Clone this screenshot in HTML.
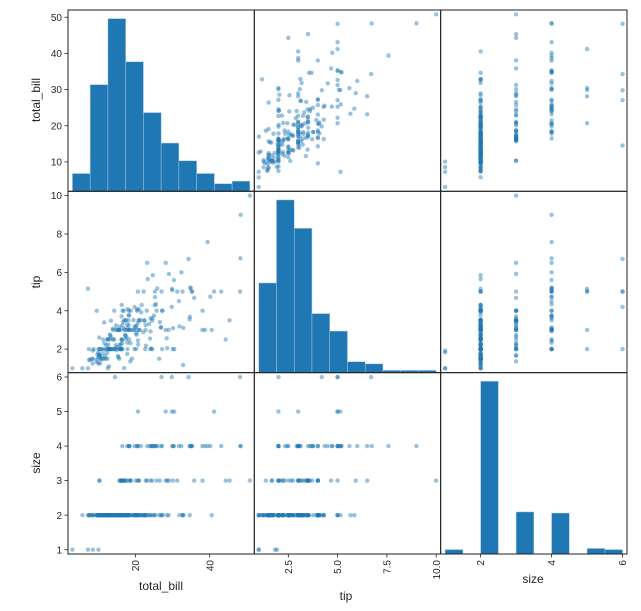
<!DOCTYPE html>
<html><head><meta charset="utf-8"><style>
html,body{margin:0;padding:0;background:#fff;}
svg{display:block;font-family:"Liberation Sans","DejaVu Sans",sans-serif;}
</style></head><body>
<svg id="chart" width="641" height="611" viewBox="0 0 641 611" xmlns="http://www.w3.org/2000/svg"></svg>
<script>
const varNames = ["total_bill","tip","size"];
// each record: [total_bill, tip, size]
const tipsRows = [
[16.99,1.01,2],[10.34,1.66,3],[21.01,3.5,3],[23.68,3.31,2],[24.59,3.61,4],[25.29,4.71,4],[8.77,2.0,2],[26.88,3.12,4],[15.04,1.96,2],[14.78,3.23,2],
[10.27,1.71,2],[35.26,5.0,4],[15.42,1.57,2],[18.43,3.0,4],[14.83,3.02,2],[21.58,3.92,2],[10.33,1.67,3],[16.29,3.71,3],[16.97,3.5,3],[20.65,3.35,3],
[17.92,4.08,2],[20.29,2.75,2],[15.77,2.23,2],[39.42,7.58,4],[19.82,3.18,2],[17.81,2.34,4],[13.37,2.0,2],[12.69,2.0,2],[21.7,4.3,2],[19.65,3.0,2],
[9.55,1.45,2],[18.35,2.5,4],[15.06,3.0,2],[20.69,2.45,4],[17.78,3.27,2],[24.06,3.6,3],[16.31,2.0,3],[16.93,3.07,3],[18.69,2.31,3],[31.27,5.0,3],
[16.04,2.24,3],[17.46,2.54,2],[13.94,3.06,2],[9.68,1.32,2],[30.4,5.6,4],[18.29,3.0,2],[22.23,5.0,2],[32.4,6.0,4],[28.55,2.05,3],[18.04,3.0,2],
[12.54,2.5,2],[10.29,2.6,2],[34.81,5.2,4],[9.94,1.56,2],[25.56,4.34,4],[19.49,3.51,2],[38.01,3.0,4],[26.41,1.5,2],[11.24,1.76,2],[48.27,6.73,4],
[20.29,3.21,2],[13.81,2.0,2],[11.02,1.98,2],[18.29,3.76,4],[17.59,2.64,3],[20.08,3.15,3],[16.45,2.47,2],[3.07,1.0,1],[20.23,2.01,2],[15.01,2.09,2],
[12.02,1.97,2],[17.07,3.0,3],[26.86,3.14,2],[25.28,5.0,2],[14.73,2.2,2],[10.51,1.25,2],[17.92,3.08,2],[27.2,4.0,4],[22.76,3.0,2],[17.29,2.71,2],
[19.44,3.0,2],[16.66,3.4,2],[10.07,1.83,1],[32.68,5.0,2],[15.98,2.03,2],[34.83,5.17,4],[13.03,2.0,2],[18.28,4.0,2],[24.71,5.85,2],[21.16,3.0,2],
[28.97,3.0,2],[22.49,3.5,2],[5.75,1.0,2],[16.32,4.3,2],[22.75,3.25,2],[40.17,4.73,4],[27.28,4.0,2],[12.03,1.5,2],[21.01,3.0,2],[12.46,1.5,2],
[11.35,2.5,2],[15.38,3.0,2],[44.3,2.5,3],[22.42,3.48,2],[20.92,4.08,2],[15.36,1.64,2],[20.49,4.06,2],[25.21,4.29,2],[18.24,3.76,2],[14.31,4.0,2],
[14.0,3.0,2],[7.25,1.0,1],[38.07,4.0,3],[23.95,2.55,2],[25.71,4.0,3],[17.31,3.5,2],[29.93,5.07,4],[16.27,2.5,2],[10.09,2.0,2],[20.45,3.0,4],
[13.28,2.72,2],[22.12,2.88,2],[24.01,2.0,4],[15.69,3.0,3],[11.61,3.39,2],[10.77,1.47,2],[15.53,3.0,2],[10.07,1.25,2],[12.6,1.0,2],[32.83,1.17,2],
[35.83,4.67,3],[29.03,5.92,3],[27.18,2.0,2],[22.67,2.0,2],[17.82,1.75,2],[18.78,3.0,2],[7.51,2.0,2],[14.07,2.5,2],[13.13,2.0,2],[17.26,2.74,3],
[24.55,2.0,4],[19.77,2.0,4],[29.85,5.14,5],[48.17,5.0,6],[25.0,3.75,4],[13.39,2.61,2],[16.49,2.0,4],[21.5,3.5,4],[12.66,2.5,2],[16.21,2.0,3],
[17.51,3.0,2],[24.52,3.48,3],[20.76,2.24,2],[31.71,4.5,4],[10.59,1.61,2],[10.63,2.0,2],[50.81,10.0,3],[15.81,3.16,2],[7.25,5.15,2],[31.85,3.18,2],
[16.82,4.0,2],[32.9,3.11,2],[17.89,2.0,2],[14.48,2.0,2],[9.6,4.0,2],[34.63,3.55,2],[34.65,3.68,4],[23.33,5.65,2],[45.35,3.5,3],[23.17,6.5,4],
[40.55,3.0,2],[20.69,5.0,5],[20.9,3.5,3],[30.46,2.0,5],[18.15,3.5,3],[23.1,4.0,3],[15.69,1.5,2],[19.81,4.19,2],[28.44,2.56,2],[15.48,2.02,2],
[16.58,4.0,2],[7.56,1.44,2],[10.34,2.0,2],[43.11,5.0,4],[13.0,2.0,2],[13.51,2.0,2],[18.71,4.0,3],[12.74,2.01,2],[16.4,2.5,2],[20.53,4.0,4],
[16.47,3.23,3],[26.59,3.41,3],[38.73,3.0,4],[24.27,2.03,2],[12.76,2.23,2],[30.06,2.0,3],[25.89,5.16,4],[48.33,9.0,4],[13.27,2.5,2],[28.17,6.5,3],
[12.9,1.1,2],[28.15,3.0,5],[11.59,1.5,2],[7.74,1.44,2],[30.14,3.09,4],[12.16,2.2,2],[13.42,3.48,2],[8.58,1.92,1],[15.98,3.0,3],[34.3,6.7,6],
[41.19,5.0,5],[27.05,5.0,6],[16.43,2.3,2],[8.35,1.5,2],[18.64,1.36,3],[11.87,1.63,2],[9.78,1.73,2],[29.8,4.2,6],[8.52,1.48,2],[14.52,2.0,6],
[11.38,2.0,2],[22.82,2.18,3],[19.08,1.5,2],[20.27,2.83,2],[11.17,1.5,2],[12.26,2.0,2],[18.26,3.25,2],[8.51,1.25,2],[14.15,2.0,2],[16.0,2.0,2],
[13.16,2.75,2],[17.47,3.5,2],[10.65,1.5,2],[12.43,1.8,2],[24.08,2.92,4],[11.69,2.31,2],[14.26,2.5,2],[15.95,2.0,2],[12.48,2.52,2],[35.26,5.0,4]
];
const histTotalBill = [7,42,68,51,31,19,12,7,3,4];
const histTip = [41,79,66,27,19,5,4,1,1,1];
const histSize = [4,0,156,0,38,0,37,0,5,4];
const ticksTotalBillY = ["10","20","30","40","50"];
const ticksTipY = ["2","4","6","8","10"];
const ticksSizeY = ["1","2","3","4","5","6"];
const ticksTotalBillX = ["20","40"];
const ticksTipX = ["2.5","5.0","7.5","10.0"];
const ticksSizeX = ["2","4","6"];

const NS="http://www.w3.org/2000/svg";
const svg=document.getElementById('chart');
const cols=[68,254.3,440.7], rows=[10,191.3,372.7], CW=186.3, RH=181.3;
const datas=[0,1,2].map(k=>tipsRows.map(r=>r[k]));
const hists=[histTotalBill,histTip,histSize];
function lim(a){const mn=Math.min(...a),mx=Math.max(...a),d=(mx-mn)*0.025;return [mn-d,mx+d];}
const lims=datas.map(lim);
const xScale=(j,v)=>cols[j]+(v-lims[j][0])/(lims[j][1]-lims[j][0])*CW;
const yScale=(i,v)=>rows[i]+RH-(v-lims[i][0])/(lims[i][1]-lims[i][0])*RH;
function mk(tag,at,parent){const e=document.createElementNS(NS,tag);for(const k in at)e.setAttribute(k,at[k]);(parent||svg).appendChild(e);return e;}

for(let i=0;i<3;i++)for(let j=0;j<3;j++){
  const g=mk('g',{});
  
  
  if(i===j){
    const h=hists[i],mx=Math.max(...h)*1.05,mn=Math.min(...datas[i]),mxv=Math.max(...datas[i]),bw=(mxv-mn)/h.length;
    h.forEach((c,k)=>{ if(!c)return;
      const x1=xScale(j,mn+k*bw),x2=xScale(j,mn+(k+1)*bw),hh=c/mx*RH;
      const r=mk('rect',{x:x1,y:rows[i]+RH-hh,width:x2-x1,height:hh,fill:'#1f77b4',stroke:'#a9c9e2','stroke-width':0.5},g);
      
      
    });
  } else {
    for(let n=0;n<tipsRows.length;n++){
      const c=mk('circle',{cx:xScale(j,datas[j][n]),cy:yScale(i,datas[i][n]),r:2.2,fill:'#1f77b4','fill-opacity':0.45},g);
      
      
    }
  }
  const fr=mk('rect',{x:cols[j],y:rows[i],width:CW,height:RH,fill:'none',stroke:'#222','stroke-width':1},g);
  
  
}
const yt=[ticksTotalBillY,ticksTipY,ticksSizeY];
yt.forEach((arr,i)=>arr.forEach(t=>{
  const y=yScale(i,parseFloat(t));
  mk('line',{x1:cols[0]-3.5,x2:cols[0],y1:y,y2:y,stroke:'#222','stroke-width':0.8});
  const tx=mk('text',{x:cols[0]-6,y:y+3.6,'text-anchor':'end','font-size':10,fill:'#262626'});
  tx.textContent=t;
  
  
}));
const xt=[ticksTotalBillX,ticksTipX,ticksSizeX];
const bottom=rows[2]+RH;
xt.forEach((arr,j)=>arr.forEach(t=>{
  const x=xScale(j,parseFloat(t));
  mk('line',{x1:x,x2:x,y1:bottom,y2:bottom+3.5,stroke:'#222','stroke-width':0.8});
  const tx=mk('text',{x:0,y:0,'text-anchor':'end','font-size':10,fill:'#262626',transform:`translate(${x+3.6},${bottom+6}) rotate(-90)`});
  tx.textContent=t;
  
  
}));
const yTitleY=[100,282,463];
varNames.forEach((n,i)=>{
  const tx=mk('text',{x:0,y:0,'text-anchor':'middle','font-size':12,fill:'#262626',transform:`translate(40,${yTitleY[i]}) rotate(-90)`});
  tx.textContent=n;
  
  
});
const xTitlePos=[[161,590],[346,600],[533,583]];
varNames.forEach((n,j)=>{
  const tx=mk('text',{x:xTitlePos[j][0],y:xTitlePos[j][1],'text-anchor':'middle','font-size':12,fill:'#262626'});
  tx.textContent=n;
  
  
});
</script>
</body></html>
